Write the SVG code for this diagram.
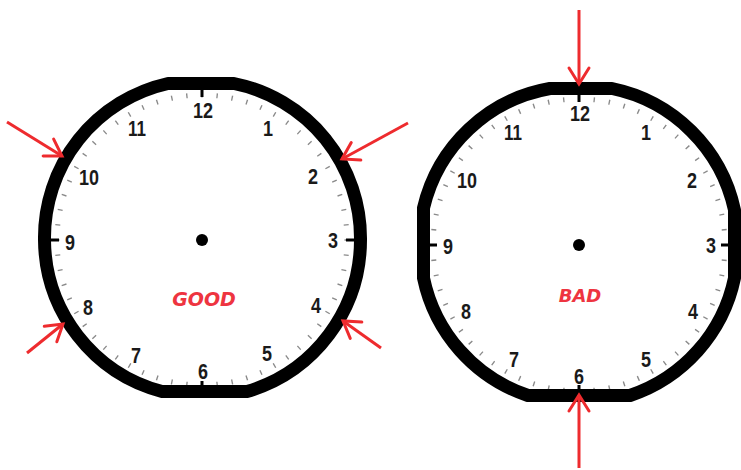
<svg xmlns="http://www.w3.org/2000/svg" width="741" height="470" viewBox="0 0 741 470">
<style>
.ring{fill:none;stroke:#000;stroke-width:13;stroke-linejoin:round}
.min{fill:none;stroke:#8a8a8a;stroke-width:5}
.hr{stroke:#000;stroke-width:3}
.num{font-family:"Liberation Sans",sans-serif;font-weight:bold;font-size:22px;fill:#1a1a1a;text-anchor:middle}
.lbl{font-family:"DejaVu Sans",sans-serif;font-weight:bold;font-style:italic;fill:#ee3440;text-anchor:middle}
.arr{stroke:#ee2b2e;stroke-width:3;fill:none;marker-end:url(#ah)}
</style>
<defs>
<marker id="ah" markerUnits="userSpaceOnUse" markerWidth="40" markerHeight="40" refX="0" refY="0" orient="auto" viewBox="-20 -20 40 40" overflow="visible">
<path d="M-16,-10 L0,0 L-16,10" fill="none" stroke="#ee2b2e" stroke-width="3" stroke-linecap="round" stroke-linejoin="miter"/>
</marker>
</defs>
<rect width="741" height="470" fill="#fff"/>
<g id="clock-good">
<circle class="min" cx="202" cy="240" r="145" pathLength="60" stroke-dasharray="0.09 0.91" stroke-dashoffset="0.045"/>
<line class="hr" x1="202" y1="89" x2="202" y2="97"/>
<line class="hr" x1="354" y1="240" x2="346" y2="240"/>
<line class="hr" x1="202" y1="386" x2="202" y2="381"/>
<line class="hr" x1="50" y1="240" x2="59" y2="240"/>
<path class="ring" d="M168,83.5 L234,83.5 A158,158 0 0 1 360.5,240 A158,158 0 0 1 247,391.5 L162,391.5 A158,158 0 0 1 44.5,240 A158,158 0 0 1 168,83.5 Z"/>
<circle cx="202" cy="240" r="6" fill="#000"/>
<text class="num" x="203" y="118" textLength="20" lengthAdjust="spacingAndGlyphs">12</text>
<text class="num" x="268" y="136" textLength="10" lengthAdjust="spacingAndGlyphs">1</text>
<text class="num" x="313" y="184" textLength="10" lengthAdjust="spacingAndGlyphs">2</text>
<text class="num" x="333" y="248" textLength="10" lengthAdjust="spacingAndGlyphs">3</text>
<text class="num" x="316" y="313" textLength="10" lengthAdjust="spacingAndGlyphs">4</text>
<text class="num" x="267" y="361" textLength="10" lengthAdjust="spacingAndGlyphs">5</text>
<text class="num" x="203" y="379" textLength="10" lengthAdjust="spacingAndGlyphs">6</text>
<text class="num" x="136" y="363" textLength="10" lengthAdjust="spacingAndGlyphs">7</text>
<text class="num" x="88" y="315" textLength="10" lengthAdjust="spacingAndGlyphs">8</text>
<text class="num" x="70" y="250" textLength="10" lengthAdjust="spacingAndGlyphs">9</text>
<text class="num" x="89" y="185" textLength="20" lengthAdjust="spacingAndGlyphs">10</text>
<text class="num" x="137" y="136" textLength="18" lengthAdjust="spacingAndGlyphs">11</text>
<text class="lbl" x="204" y="306" font-size="19">GOOD</text>
</g>
<g id="clock-bad">
<circle class="min" cx="579" cy="245" r="146" pathLength="60" stroke-dasharray="0.09 0.91" stroke-dashoffset="0.045"/>
<line class="hr" x1="579" y1="94" x2="579" y2="102"/>
<line class="hr" x1="729" y1="245" x2="721" y2="245"/>
<line class="hr" x1="579" y1="390" x2="579" y2="385"/>
<line class="hr" x1="429" y1="245" x2="437" y2="245"/>
<path class="ring" d="M550,88.5 L612,88.5 A158,158 0 0 1 734.5,210 L734.5,278 A158,158 0 0 1 630,395.5 L528,395.5 A158,158 0 0 1 423.5,278 L423.5,208 A158,158 0 0 1 550,88.5 Z"/>
<circle cx="579" cy="245" r="6" fill="#000"/>
<text class="num" x="580" y="121" textLength="20" lengthAdjust="spacingAndGlyphs">12</text>
<text class="num" x="646" y="140" textLength="10" lengthAdjust="spacingAndGlyphs">1</text>
<text class="num" x="692" y="188" textLength="10" lengthAdjust="spacingAndGlyphs">2</text>
<text class="num" x="711" y="253" textLength="10" lengthAdjust="spacingAndGlyphs">3</text>
<text class="num" x="693" y="319" textLength="10" lengthAdjust="spacingAndGlyphs">4</text>
<text class="num" x="646" y="367" textLength="10" lengthAdjust="spacingAndGlyphs">5</text>
<text class="num" x="579" y="384" textLength="10" lengthAdjust="spacingAndGlyphs">6</text>
<text class="num" x="514" y="367" textLength="10" lengthAdjust="spacingAndGlyphs">7</text>
<text class="num" x="466" y="319" textLength="10" lengthAdjust="spacingAndGlyphs">8</text>
<text class="num" x="448" y="254" textLength="10" lengthAdjust="spacingAndGlyphs">9</text>
<text class="num" x="467" y="188" textLength="20" lengthAdjust="spacingAndGlyphs">10</text>
<text class="num" x="513" y="140" textLength="18" lengthAdjust="spacingAndGlyphs">11</text>
<text class="lbl" x="580" y="302" font-size="18">BAD</text>
</g>
<g id="connectors">
<line class="arr" x1="7" y1="122" x2="62" y2="156"/>
<line class="arr" x1="408" y1="123" x2="342" y2="159"/>
<line class="arr" x1="27" y1="353" x2="63" y2="324"/>
<line class="arr" x1="381" y1="348" x2="343" y2="321"/>
<line class="arr" x1="579" y1="10" x2="579" y2="84"/>
<line class="arr" x1="579" y1="468" x2="579" y2="395"/>
</g>
</svg>
